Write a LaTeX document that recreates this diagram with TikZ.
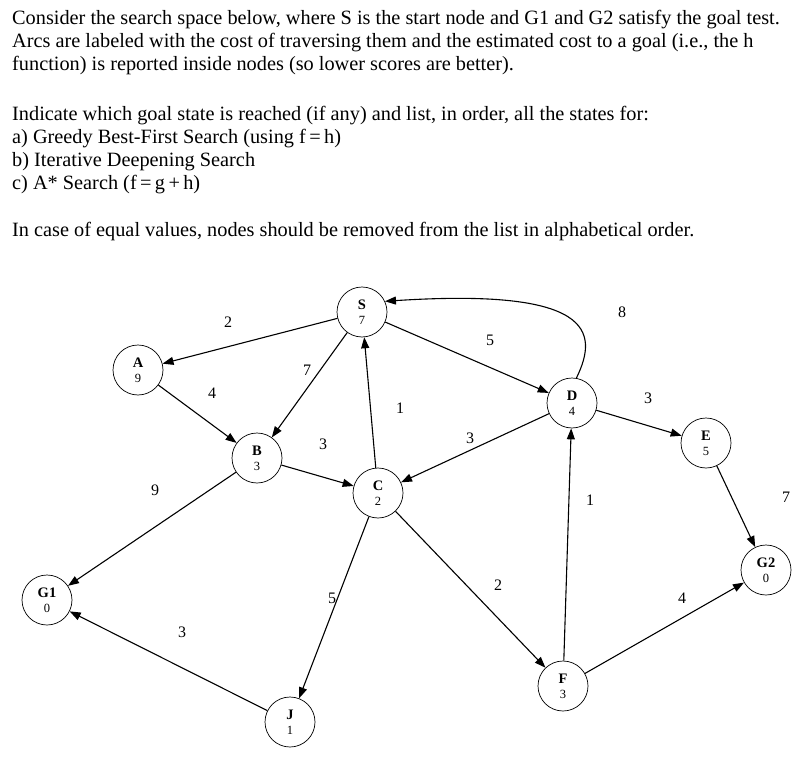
\documentclass[tikz,border=0pt]{standalone}
\usepackage{fontspec}
\setmainfont{Liberation Serif}
\usetikzlibrary{arrows.meta}
\newcommand{\hv}[1]{{\fontsize{12.5}{13}\selectfont #1}}
\begin{document}
\begin{tikzpicture}[x=1pt,y=-1pt,
  txt/.style={anchor=west,inner sep=0,font=\fontsize{20.3}{22}\selectfont},
  st/.style={circle,draw,line width=0.7pt,minimum size=50pt,inner sep=0,align=center,font=\fontsize{14.5}{15}\selectfont},
  ar/.style={-{Triangle[length=11pt,width=8pt]},line width=1.1pt},
  lb/.style={font=\fontsize{16}{17}\selectfont,inner sep=0}]
\useasboundingbox (0,0) rectangle (809,757);
\node[txt] (t1) at (12,20) {Consider the search space below, where S is the start node and G1 and G2 satisfy the goal test.};
\node[txt] (t2) at (12,43) {Arcs are labeled with the cost of traversing them and the estimated cost to a goal (i.e., the h};
\node[txt] (t3) at (12,66) {function) is reported inside nodes (so lower scores are better).};
\node[txt] (t4) at (12,116) {Indicate which goal state is reached (if any) and list, in order, all the states for:};
\node[txt] (t5) at (12,139) {a) Greedy Best-First Search (using f\,=\,h)};
\node[txt] (t6) at (12,162) {b) Iterative Deepening Search};
\node[txt] (t7) at (12,185) {c) A* Search (f\,=\,g\,+\,h)};
\node[txt] (t8) at (12,232) {In case of equal values, nodes should be removed from the list in alphabetical order.};

\node[st] (S) at (362,312) {\textbf{S}\\\hv{7}};
\node[st] (A) at (138,370) {\textbf{A}\\\hv{9}};
\node[st] (B) at (257,458) {\textbf{B}\\\hv{3}};
\node[st] (C) at (378,493) {\textbf{C}\\\hv{2}};
\node[st] (D) at (572,403) {\textbf{D}\\\hv{4}};
\node[st] (E) at (706,443) {\textbf{E}\\\hv{5}};
\node[st] (G1) at (47,600) {\textbf{G1}\\\hv{0}};
\node[st] (G2) at (766,570) {\textbf{G2}\\\hv{0}};
\node[st] (J) at (290,722) {\textbf{J}\\\hv{1}};
\node[st] (F) at (563,686) {\textbf{F}\\\hv{3}};

\draw[ar] (S) -- (A);
\draw[ar] (S) -- (B);
\draw[ar] (C) -- (S);
\draw[ar] (S) -- (D);
\draw[ar] (D.80) .. controls (600,330) and (590,288) .. (S.25);
\draw[ar] (A) -- (B);
\draw[ar] (B) -- (G1);
\draw[ar] (B) -- (C);
\draw[ar] (D) -- (C);
\draw[ar] (D) -- (E);
\draw[ar] (E) -- (G2);
\draw[ar] (C) -- (J);
\draw[ar] (C) -- (F);
\draw[ar] (F) -- (D);
\draw[ar] (F) -- (G2);
\draw[ar] (J) -- (G1);

\node[lb] (l1) at (228,322) {2};
\node[lb] (l2) at (307,370) {7};
\node[lb] (l3) at (400,408) {1};
\node[lb] (l4) at (490,340) {5};
\node[lb] (l5) at (622,312) {8};
\node[lb] (l6) at (212,393) {4};
\node[lb] (l7) at (155,490) {9};
\node[lb] (l8) at (323,444) {3};
\node[lb] (l9) at (470,438) {3};
\node[lb] (l10) at (648,398) {3};
\node[lb] (l11) at (786,497) {7};
\node[lb] (l12) at (332,598) {5};
\node[lb] (l13) at (498,585) {2};
\node[lb] (l14) at (590,500) {1};
\node[lb] (l15) at (682,598) {4};
\node[lb] (l16) at (182,632) {3};
\end{tikzpicture}
\end{document}
